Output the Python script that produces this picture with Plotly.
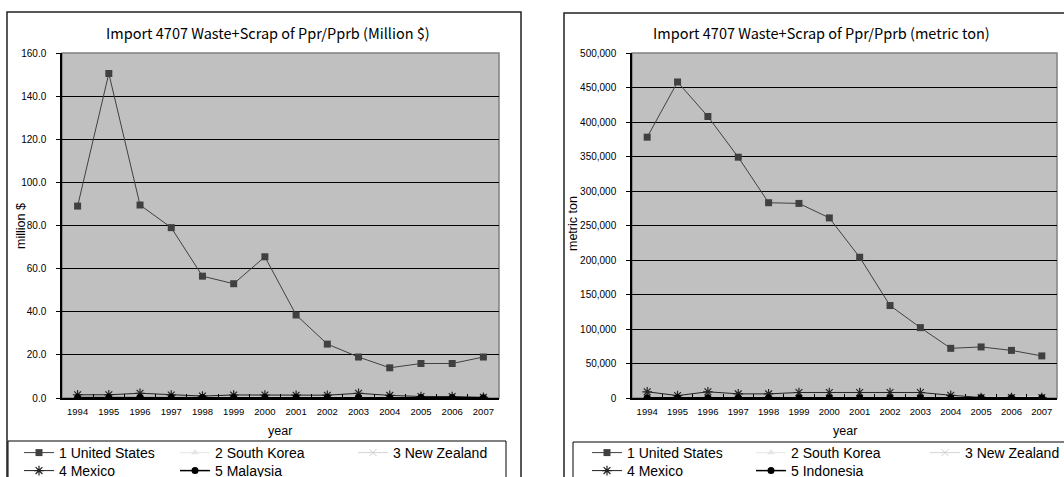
import plotly.graph_objects as go

W, H = 1064, 477
def px(x): return x / W
def py(y): return 1 - y / H

years = [str(y) for y in range(1994, 2008)]

# Left chart: Million $
usd_us = [89.0, 150.5, 89.5, 79.0, 56.5, 53.0, 65.5, 38.5, 25.0, 19.0, 14.0, 16.0, 16.0, 19.0]
usd_kr = [0.3, 0.3, 0.4, 0.3, 0.2, 0.3, 0.3, 0.3, 0.3, 0.4, 0.3, 0.2, 0.2, 0.1]
usd_nz = [0.6, 0.6, 0.7, 0.6, 0.4, 0.5, 0.5, 0.5, 0.5, 0.6, 0.4, 0.3, 0.3, 0.2]
usd_mx = [1.5, 1.5, 2.2, 1.4, 0.9, 1.4, 1.4, 1.3, 1.3, 2.2, 1.2, 0.7, 0.7, 0.3]
usd_my = [0.2, 0.2, 0.3, 0.2, 0.2, 0.2, 0.2, 0.2, 0.2, 0.3, 0.2, 0.2, 0.2, 0.1]
names_l = ["1 United States", "2 South Korea", "3 New Zealand", "4 Mexico", "5 Malaysia"]

# Right chart: metric ton
ton_us = [378000, 458000, 408000, 349000, 283000, 282000, 261000, 204000, 134000, 102000, 72000, 74000, 69000, 61000]
ton_kr = [300, 300, 400, 300, 300, 300, 300, 300, 300, 300, 300, 200, 200, 200]
ton_nz = [800, 800, 900, 800, 700, 800, 800, 800, 800, 800, 700, 2000, 2200, 2500]
ton_mx = [9000, 3500, 9000, 6000, 6000, 8000, 8000, 8000, 8000, 8000, 4000, 800, 800, 600]
ton_id = [300, 300, 400, 300, 300, 300, 300, 300, 300, 300, 300, 200, 200, 200]
names_r = ["1 United States", "2 South Korea", "3 New Zealand", "4 Mexico", "5 Indonesia"]

left_y = [0, 20, 40, 60, 80, 100, 120, 140, 160]
right_y = [0, 50000, 100000, 150000, 200000, 250000, 300000, 350000, 400000, 450000, 500000]

styles = [
    dict(line=dict(color="#404040", width=1), marker=dict(symbol="square", size=7, color="#404040")),
    dict(line=dict(color="#e6e6e6", width=1), marker=dict(symbol="triangle-up", size=7, color="#e6e6e6")),
    dict(line=dict(color="#d4d4d4", width=1), marker=dict(symbol="x-thin-open", size=7, color="#cfcfcf", line=dict(width=1, color="#cfcfcf"))),
    dict(line=dict(color="#222222", width=1), marker=dict(symbol="asterisk-open", size=8, color="#222222", line=dict(width=1.2, color="#222222"))),
    dict(line=dict(color="#000000", width=1.5), marker=dict(symbol="circle", size=7, color="#000000")),
]

# legend slot positions (symbol start x, row top y)
left_cols = [19, 175, 353, 19, 175]
right_cols = [587, 751, 925, 587, 751]
rows = [437, 437, 437, 455, 455]

fig = go.Figure()
legfont = dict(family="Liberation Sans, Arial", size=14, color="#000")
n = 0
def add_legend(name, xpix, ypix):
    fig.update_layout({name: dict(x=px(xpix), y=py(ypix), xanchor="left", yanchor="top", orientation="v",
                                  bgcolor="rgba(0,0,0,0)", borderwidth=0, font=legfont,
                                  itemclick=False, itemdoubleclick=False)})

for i, (vals, nm) in enumerate(zip([usd_us, usd_kr, usd_nz, usd_mx, usd_my], names_l)):
    n += 1
    lname = "legend" if n == 1 else f"legend{n}"
    fig.add_trace(go.Scatter(x=years, y=vals, name=nm, mode="lines+markers",
                             xaxis="x", yaxis="y", legend=lname, **styles[i]))
    add_legend(lname, left_cols[i], rows[i])
for i, (vals, nm) in enumerate(zip([ton_us, ton_kr, ton_nz, ton_mx, ton_id], names_r)):
    n += 1
    lname = f"legend{n}"
    fig.add_trace(go.Scatter(x=years, y=vals, name=nm, mode="lines+markers",
                             xaxis="x2", yaxis="y2", legend=lname, **styles[i]))
    add_legend(lname, right_cols[i], rows[i])

tickfont = dict(family="Liberation Sans, Arial", size=9.5, color="#000")
xcommon = dict(type="category", range=[-0.5, 13.5], showline=True, linecolor="#000", linewidth=1.5,
               ticks="inside", ticklen=4, tickcolor="#000", tickson="boundaries", tickfont=tickfont,
               tickangle=0, showgrid=False, zeroline=False, fixedrange=True, ticklabelstandoff=4)
ycommon = dict(showline=True, linecolor="#000", linewidth=1.5, ticks="outside", ticklen=4, tickcolor="#000",
               showgrid=True, gridcolor="#000", gridwidth=1, zeroline=False,
               tickfont=dict(family="Liberation Sans, Arial", size=10, color="#000"),
               fixedrange=True, ticklabelstandoff=8)

yd = [py(398), py(53)]
fig.update_layout(
    width=W, height=H, autosize=False, margin=dict(l=0, r=0, t=0, b=0, autoexpand=False),
    paper_bgcolor="white", plot_bgcolor="#c0c0c0",
    xaxis=dict(domain=[px(62), px(499)], anchor="y", **xcommon),
    yaxis=dict(domain=yd, anchor="x", range=[0, 160], tickvals=left_y,
               ticktext=[f"{v:.1f}" for v in left_y], **ycommon),
    xaxis2=dict(domain=[px(632), px(1057)], anchor="y2", **xcommon),
    yaxis2=dict(domain=yd, anchor="x2", range=[0, 500000], tickvals=right_y,
                ticktext=[f"{v:,}" for v in right_y], **ycommon),
    showlegend=True,
)

shapes = []
# outer chart borders
shapes.append(dict(type="rect", xref="paper", yref="paper", x0=px(7), x1=px(521), y0=py(500), y1=py(12),
                   line=dict(color="#222", width=1.5), layer="below"))
shapes.append(dict(type="rect", xref="paper", yref="paper", x0=px(564), x1=px(1090), y0=py(500), y1=py(13),
                   line=dict(color="#222", width=1.5), layer="below"))
# legend boxes
shapes.append(dict(type="rect", xref="paper", yref="paper", x0=px(8), x1=px(506), y0=py(500), y1=py(441),
                   line=dict(color="#000", width=1), layer="below"))
shapes.append(dict(type="rect", xref="paper", yref="paper", x0=px(573), x1=px(1090), y0=py(500), y1=py(442),
                   line=dict(color="#000", width=1), layer="below"))
# plot area borders
for xr in ["x", "x2"]:
    yr = "y" if xr == "x" else "y2"
    shapes.append(dict(type="rect", xref=f"{xr} domain", yref=f"{yr} domain", x0=0, x1=1, y0=0, y1=1,
                       line=dict(color="#808080", width=1.5), layer="below"))
fig.update_layout(shapes=shapes)

tfont = dict(family="Noto Sans CJK JP", size=14.5, color="#000")
afont = dict(family="Liberation Sans, Arial", size=12.5, color="#000")
ann = [
    dict(text="Import 4707 Waste+Scrap of Ppr/Pprb (Million $)", x=px(268), y=py(33), font=tfont),
    dict(text="Import 4707 Waste+Scrap of Ppr/Pprb (metric ton)", x=px(821), y=py(33), font=tfont),
    dict(text="million $", x=px(21), y=py(226), textangle=-90, font=afont),
    dict(text="metric ton", x=px(573), y=py(224), textangle=-90, font=afont),
    dict(text="year", x=px(280), y=py(431), font=afont),
    dict(text="year", x=px(845), y=py(431), font=afont),
]
for a in ann:
    a.update(xref="paper", yref="paper", showarrow=False, xanchor="center", yanchor="middle")
fig.update_layout(annotations=ann)

fig.write_html("out.html")
